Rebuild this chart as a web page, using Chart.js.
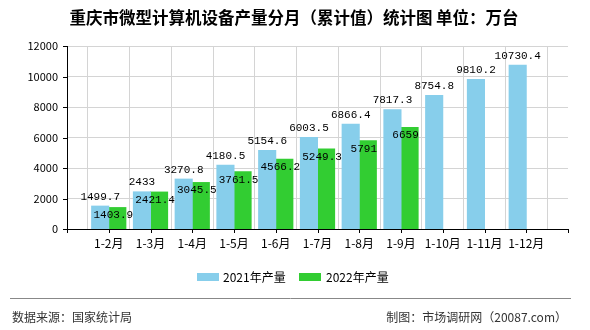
<!DOCTYPE html>
<html>
<head>
<meta charset="utf-8">
<script src="https://cdn.jsdelivr.net/npm/chart.js@4/dist/chart.umd.min.js"></script>
<style>
  html, body { margin: 0; padding: 0; background: #fff; }
  #wrap { width: 590px; height: 330px; }
</style>
</head>
<body>
<div id="wrap"><canvas id="chanliangChart" width="590" height="330"></canvas></div>
<script>
// Categorias e valores
var meses = ['1-2月', '1-3月', '1-4月', '1-5月', '1-6月', '1-7月', '1-8月', '1-9月', '1-10月', '1-11月', '1-12月'];
var producao2021 = [1499.7, 2433, 3270.8, 4180.5, 5154.6, 6003.5, 6866.4, 7817.3, 8754.8, 9810.2, 10730.4];
var producao2022 = [1403.9, 2421.4, 3045.5, 3761.5, 4566.2, 5249.3, 5791, 6659];
var yTicks = [0, 2000, 4000, 6000, 8000, 10000, 12000];

var CJK = '"Noto Sans CJK SC", "Noto Sans", sans-serif';
var MONO = '"Liberation Mono", "DejaVu Sans Mono", monospace';

// eixo com uma posição vazia em cada ponta
var labels = [''].concat(meses, ['']);
function pad(arr) {
    var out = [null];
    for (var i = 0; i < meses.length; i++) out.push(i < arr.length ? arr[i] : null);
    out.push(null);
    return out;
}

// Desenha título, rótulos, legenda e rodapé
var extras = {
    id: 'extras',
    afterDatasetsDraw: function(chart) {
        var ctx = chart.ctx;
        var area = chart.chartArea;
        var xs = chart.scales.x, ys = chart.scales.y;
        ctx.save();

        // marcas pretas dos eixos
        ctx.strokeStyle = '#000';
        ctx.lineWidth = 1;
        ctx.beginPath();
        for (var i = 0; i < labels.length; i++) {
            var px = Math.round(xs.getPixelForValue(i)) + 0.5;
            ctx.moveTo(px, area.bottom);
            ctx.lineTo(px, area.bottom + 4);
        }
        yTicks.forEach(function(v) {
            var py = Math.round(ys.getPixelForValue(v)) + 0.5;
            ctx.moveTo(area.left - 4, py);
            ctx.lineTo(area.left, py);
        });
        ctx.stroke();

        // rótulos dos valores
        ctx.fillStyle = '#000';
        ctx.font = '11px ' + MONO;
        ctx.textAlign = 'center';
        var m0 = chart.getDatasetMeta(0), m1 = chart.getDatasetMeta(1);
        m0.data.forEach(function(bar, i) {
            var v = chart.data.datasets[0].data[i];
            if (v == null) return;
            ctx.textBaseline = 'bottom';
            ctx.fillText(String(v), bar.x, bar.y - 4);
        });
        m1.data.forEach(function(bar, i) {
            var v = chart.data.datasets[1].data[i];
            if (v == null) return;
            ctx.textBaseline = 'middle';
            ctx.fillText(String(v), bar.x - 4, bar.y + 8);
        });

        // título
        ctx.font = 'bold 16.5px ' + CJK;
        ctx.textBaseline = 'middle';
        ctx.fillText('重庆市微型计算机设备产量分月（累计值）统计图 单位：万台', 294, 18);

        // legenda
        ctx.font = '12px ' + CJK;
        ctx.textAlign = 'left';
        ctx.fillStyle = '#87CEEB';
        ctx.fillRect(197, 273, 22, 8);
        ctx.fillStyle = '#000';
        ctx.fillText('2021年产量', 223, 277);
        ctx.fillStyle = '#32CD32';
        ctx.fillRect(299, 273, 22, 8);
        ctx.fillStyle = '#000';
        ctx.fillText('2022年产量', 326, 277);

        // linha e rodapé
        ctx.strokeStyle = '#888';
        ctx.beginPath();
        ctx.moveTo(10, 298.5);
        ctx.lineTo(571, 298.5);
        ctx.stroke();
        ctx.fillStyle = '#333';
        ctx.font = '12px ' + CJK;
        ctx.fillText('数据来源：国家统计局', 12, 317);
        ctx.textAlign = 'right';
        ctx.fillText('制图：市场调研网（20087.com）', 567, 317);
        ctx.restore();
    }
};

var ctxChart = document.getElementById('chanliangChart').getContext('2d');
new Chart(ctxChart, {
    type: 'bar',
    data: {
        labels: labels,
        datasets: [{
            label: '2021年产量',
            data: pad(producao2021),
            backgroundColor: '#87CEEB'
        }, {
            label: '2022年产量',
            data: pad(producao2022),
            backgroundColor: '#32CD32'
        }]
    },
    options: {
        responsive: false,
        animation: false,
        layout: { padding: { left: 0, right: 22, top: 46, bottom: 0 } },
        datasets: { bar: { categoryPercentage: 0.82, barPercentage: 1, inflateAmount: 0.5 } },
        plugins: { legend: { display: false }, tooltip: { enabled: false } },
        scales: {
            x: {
                offset: false,
                afterFit: function(s) { s.height = 101; },
                grid: { color: '#d4d4d4', drawTicks: false },
                border: { color: '#000' },
                ticks: { color: '#000', font: { family: CJK, size: 12 }, padding: 7, maxRotation: 0, autoSkip: false }
            },
            y: {
                min: 0, max: 12000,
                afterFit: function(s) { s.width = 67; },
                afterBuildTicks: function(s) { s.ticks = yTicks.map(function(v) { return { value: v }; }); },
                grid: { color: '#d4d4d4', drawTicks: false },
                border: { color: '#000' },
                ticks: {
                    color: '#000', font: { family: CJK, size: 11 }, padding: 9,
                    callback: function(v) { return String(v); }
                }
            }
        }
    },
    plugins: [extras]
});
</script>
</body>
</html>
